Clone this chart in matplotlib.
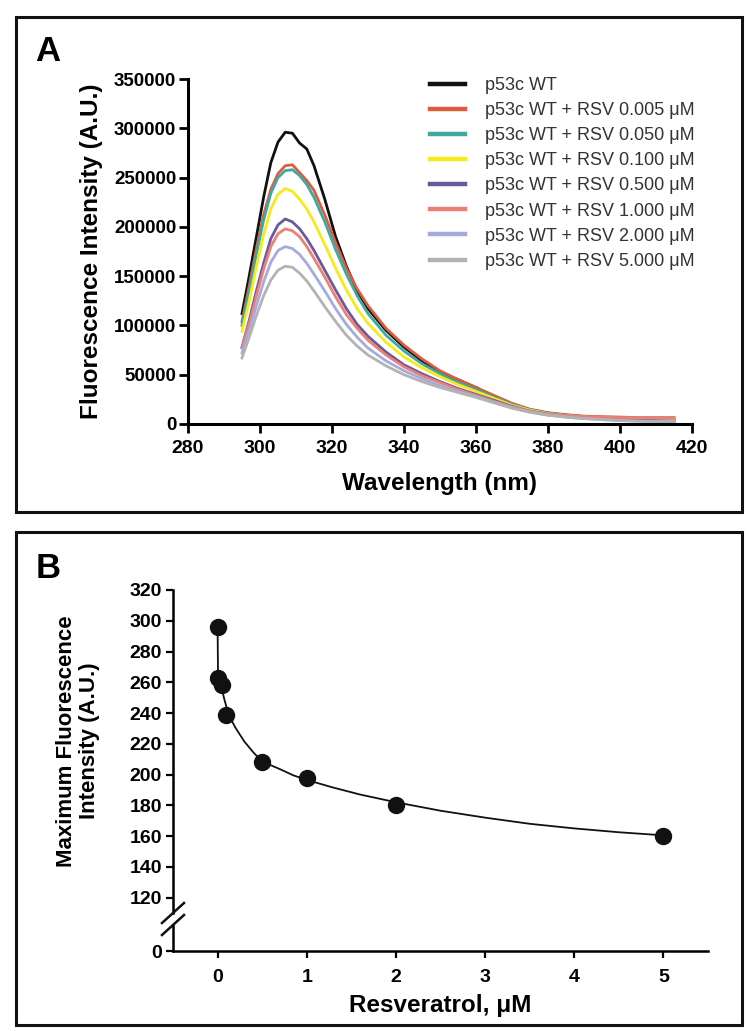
import numpy as np
import matplotlib.pyplot as plt
from matplotlib.patches import Rectangle
from matplotlib.lines import Line2D

# Painel A: espectros de fluorescencia
wavelength = [295, 297, 299, 301, 303, 305, 307, 309, 311, 313, 315, 318, 321, 324,
              327, 330, 335, 340, 345, 350, 355, 360, 365, 370, 375, 380, 385, 390,
              395, 400, 405, 410, 415]

wt = [112000, 150000, 190000, 230000, 265000, 286000, 296000, 295000, 285000, 279000,
      262000, 228000, 190000, 160000, 135000, 117000, 95000, 78000, 64000, 53000,
      45000, 37000, 28000, 20000, 14500, 11000, 9000, 7500, 6500, 5500, 5000, 4500, 4000]
rsv_0005 = [104000, 140000, 178000, 212000, 238000, 254000, 262000, 263000, 255000, 247000,
            237000, 212000, 184000, 158000, 137000, 120000, 97000, 80000, 66000, 54000,
            45000, 37000, 29000, 21000, 15000, 11500, 9500, 8000, 7500, 7000, 6500, 6500, 6500]
rsv_0050 = [100000, 135000, 172000, 207000, 234000, 250000, 257000, 258000, 252000, 243000,
            230000, 205000, 177000, 152000, 130000, 112000, 90000, 74000, 61000, 51000,
            42000, 35000, 27000, 20000, 14500, 11000, 9000, 7500, 6500, 5500, 5000, 4500, 4500]
rsv_0100 = [94000, 125000, 160000, 192000, 218000, 233000, 239000, 236000, 228000, 218000,
            205000, 182000, 158000, 136000, 117000, 102000, 83000, 68000, 57000, 48000,
            40000, 33000, 26000, 19000, 14000, 10500, 8500, 7000, 6000, 5000, 4500, 4000, 4000]
rsv_0500 = [78000, 105000, 135000, 163000, 188000, 202000, 208000, 205000, 198000, 188000,
            176000, 156000, 136000, 117000, 101000, 89000, 73000, 60000, 51000, 43000,
            36000, 30000, 24000, 18000, 13000, 10000, 8000, 6500, 5500, 4500, 4000, 3500, 3000]
rsv_1000 = [77000, 102000, 130000, 157000, 180000, 193000, 198000, 196000, 190000, 180000,
            168000, 149000, 129000, 111000, 97000, 85000, 70000, 58000, 49000, 42000,
            35000, 29000, 23000, 17500, 13000, 10000, 8500, 7500, 7000, 6500, 6500, 6500, 6500]
rsv_2000 = [72000, 95000, 120000, 144000, 164000, 176000, 180000, 178000, 172000, 163000,
            152000, 135000, 117000, 101000, 88000, 77000, 64000, 54000, 46000, 39000,
            33000, 28000, 22000, 16500, 12000, 9000, 7000, 5500, 4500, 3500, 3000, 2500, 2500]
rsv_5000 = [67000, 88000, 110000, 130000, 146000, 156000, 160000, 159000, 153000, 145000,
            135000, 119000, 104000, 90000, 79000, 70000, 59000, 50000, 43000, 37000,
            32000, 27000, 21500, 16000, 12000, 9000, 7000, 5500, 4500, 3500, 3000, 3000, 3000]

series_labels = ['p53c WT',
                 'p53c WT + RSV 0.005 \u03bcM',
                 'p53c WT + RSV 0.050 \u03bcM',
                 'p53c WT + RSV 0.100 \u03bcM',
                 'p53c WT + RSV 0.500 \u03bcM',
                 'p53c WT + RSV 1.000 \u03bcM',
                 'p53c WT + RSV 2.000 \u03bcM',
                 'p53c WT + RSV 5.000 \u03bcM']
series_colors = ['#111111', '#e05a3f', '#3fa9a0', '#f4ea1c',
                 '#6a5a9c', '#ec8077', '#a3acdc', '#b3b3b3']

# Painel B: intensidade maxima vs resveratrol
rsv_conc = [0, 0.005, 0.05, 0.1, 0.5, 1, 2, 5]
max_intensity = [296, 263, 258, 239, 208, 198, 180, 160]

# curva ajustada
fit_x = [0, 0.005, 0.02, 0.05, 0.08, 0.12, 0.15, 0.2, 0.25, 0.3, 0.35, 0.4, 0.45,
         0.5, 0.6, 0.7, 0.85, 1.0, 1.3, 1.6, 2.0, 2.5, 3.0, 3.5, 4.0, 4.5, 5.0]
fit_y = [296, 265, 261, 255, 248, 240, 236, 230.5, 226, 221.5, 218, 214.5, 211.5,
         209, 206, 203.5, 199.5, 196.5, 191.5, 187, 182, 176.5, 172, 168, 165, 162.5, 160.5]

W, H = 749, 1031
fig = plt.figure(figsize=(W / 100, H / 100), dpi=100)

font = ['Liberation Sans', 'DejaVu Sans']


def box(x0, y0, x1, y1):
    # retangulo em pixels (origem no topo)
    return [x0 / W, 1 - y1 / H, (x1 - x0) / W, (y1 - y0) / H]


# molduras
for (x0, y0, x1, y1) in [(16, 17, 742, 512), (16, 532, 742, 1025)]:
    b = box(x0, y0, x1, y1)
    fig.patches.append(Rectangle((b[0], b[1]), b[2], b[3], transform=fig.transFigure,
                                 fill=False, lw=2.2, ec='#111111'))

fig.text(48 / W, 1 - 52 / H, 'A', fontsize=25, fontweight='bold', family=font,
         ha='center', va='center')
fig.text(48 / W, 1 - 568 / H, 'B', fontsize=25, fontweight='bold', family=font,
         ha='center', va='center')

# ---- Painel A ----
axA = fig.add_axes(box(188, 79, 692, 424))
spectra = [wt, rsv_0005, rsv_0050, rsv_0100, rsv_0500, rsv_1000, rsv_2000, rsv_5000]
for vals, lab, col in zip(spectra, series_labels, series_colors):
    axA.plot(wavelength, vals, color=col, lw=2.0, label=lab)

axA.set_xlim(280, 420)
axA.set_ylim(0, 350000)
axA.set_xticks(np.arange(280, 421, 20))
axA.set_yticks(np.arange(0, 350001, 50000))
for s in ['top', 'right']:
    axA.spines[s].set_visible(False)
for s in ['left', 'bottom']:
    axA.spines[s].set_linewidth(2.2)
axA.tick_params(width=2.0, length=6.5, labelsize=13.5, pad=2)
axA.tick_params(axis='x', labelsize=14, pad=5)
for t in axA.get_xticklabels() + axA.get_yticklabels():
    t.set_family(font)
    t.set_fontweight('bold')
axA.set_xlabel('Wavelength (nm)', fontsize=17.5, fontweight='bold', family=font,
               labelpad=11)
axA.set_ylabel('Fluorescence Intensity (A.U.)', fontsize=17.5, fontweight='bold',
               family=font, labelpad=8)

leg = axA.legend(loc='upper left', bbox_to_anchor=(430 / W, 1 - 77 / H),
                 bbox_transform=fig.transFigure, frameon=False, borderpad=0,
                 borderaxespad=0, handlelength=1.95, handletextpad=1.1,
                 labelspacing=0.45, prop={'family': font, 'size': 13})
for ln in leg.get_lines():
    ln.set_linewidth(3.2)
for t in leg.get_texts():
    t.set_color('#333333')

# ---- Painel B (eixo y quebrado) ----
axB = fig.add_axes(box(173, 590, 708, 913))
axB0 = fig.add_axes(box(173, 925, 708, 951), sharex=axB)

for ax in (axB, axB0):
    ax.plot(fit_x, fit_y, color='#111111', lw=1.3)
    ax.plot(rsv_conc, max_intensity, 'o', color='#111111', ms=11.5)
    for s in ['top', 'right']:
        ax.spines[s].set_visible(False)
    ax.spines['left'].set_linewidth(1.8)
    ax.spines['bottom'].set_linewidth(1.8)
    ax.tick_params(width=1.6, length=5, labelsize=14, pad=3)

axB.set_ylim(110, 320)
axB.set_yticks(np.arange(120, 321, 20))
axB.spines['bottom'].set_visible(False)
axB.tick_params(axis='x', bottom=False, labelbottom=False)

axB0.set_ylim(0, 17)
axB0.set_yticks([0])
axB0.set_xlim(-0.5, 5.5)
axB0.set_xticks(np.arange(0, 6, 1))
axB0.tick_params(axis='x', pad=8)

for t in (axB.get_yticklabels() + axB0.get_yticklabels() + axB0.get_xticklabels()):
    t.set_family(font)
    t.set_fontweight('bold')

axB0.set_xlabel('Resveratrol, \u03bcM', fontsize=17.5, fontweight='bold', family=font,
                labelpad=6)
fig.text(78 / W, 1 - 741 / H, 'Maximum Fluorescence\nIntensity (A.U.)', rotation=90,
         fontsize=16, fontweight='bold', family=font, ha='center', va='center',
         linespacing=1.1)

# marcas de quebra
for yc in (913, 925):
    fig.lines.append(Line2D([(173 - 11) / W, (173 + 11) / W],
                            [1 - (yc + 10) / H, 1 - (yc - 10) / H],
                            transform=fig.transFigure, color='#111111', lw=1.8))

fig.savefig('out.png', dpi=100)
